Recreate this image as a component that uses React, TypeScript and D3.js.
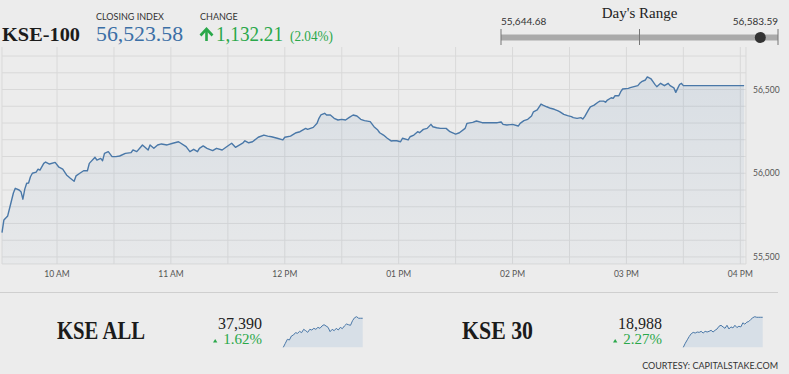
import React from "react";
import * as d3 from "d3";

// KSE-100 intraday (time, index)
const kseTimes = [
    "9:31", "9:32", "9:34", "9:35", "9:37", "9:38", "9:40", "9:41", "9:42", "9:43",
    "9:44", "9:45", "9:46", "9:47", "9:49", "9:50", "9:51", "9:53", "9:54", "9:56",
    "9:59", "10:01", "10:03", "10:05", "10:07", "10:09", "10:10", "10:12", "10:14", "10:16",
    "10:17", "10:20", "10:21", "10:23", "10:24", "10:25", "10:27", "10:29", "10:31", "10:33",
    "10:36", "10:39", "10:40", "10:42", "10:44", "10:45", "10:48", "10:49", "10:51", "10:53",
    "10:55", "10:58", "11:01", "11:04", "11:08", "11:10", "11:12", "11:14", "11:15", "11:17",
    "11:19", "11:22", "11:24", "11:27", "11:29", "11:32", "11:34", "11:38", "11:39", "11:41",
    "11:43", "11:46", "11:49", "11:51", "11:53", "11:56", "11:59", "12:00", "12:03", "12:06",
    "12:08", "12:11", "12:12", "12:15", "12:17", "12:18", "12:19", "12:21", "12:22", "12:24",
    "12:26", "12:28", "12:30", "12:32", "12:34", "12:36", "12:38", "12:40", "12:42", "12:45",
    "12:47", "12:49", "12:50", "12:52", "12:54", "12:56", "12:57", "12:59", "13:01", "13:02",
    "13:05", "13:06", "13:08", "13:10", "13:11", "13:13", "13:15", "13:17", "13:18", "13:20",
    "13:22", "13:25", "13:27", "13:30", "13:32", "13:35", "13:36", "13:39", "13:41", "13:44",
    "13:47", "13:49", "13:52", "13:54", "13:55", "13:57", "14:00", "14:03", "14:04", "14:06",
    "14:08", "14:10", "14:11", "14:13", "14:15", "14:16", "14:18", "14:20", "14:22", "14:24",
    "14:25", "14:27", "14:29", "14:31", "14:32", "14:34", "14:36", "14:37", "14:38", "14:40",
    "14:41", "14:43", "14:45", "14:46", "14:48", "14:49", "14:50", "14:52", "14:53", "14:54",
    "14:56", "14:57", "14:58", "15:01", "15:02", "15:04", "15:06", "15:07", "15:08", "15:10",
    "15:11", "15:13", "15:14", "15:15", "15:16", "15:18", "15:20", "15:22", "15:23", "15:25",
    "15:26", "15:27", "15:28", "15:29", "15:30", "16:02",
];
const kseValues = [
    55645, 55721, 55745, 55791, 55882, 55910, 55900, 55890, 55845, 55905,
    55940, 55942, 55979, 56000, 56007, 56024, 56019, 56059, 56067, 56055,
    56065, 56036, 56024, 55990, 55970, 55952, 55984, 56000, 56015, 56015,
    56059, 56095, 56079, 56089, 56075, 56119, 56129, 56099, 56099, 56103,
    56119, 56123, 56139, 56129, 56155, 56169, 56139, 56169, 56149, 56169,
    56175, 56169, 56179, 56188, 56159, 56129, 56143, 56129, 56149, 56163,
    56149, 56135, 56149, 56139, 56155, 56179, 56155, 56182, 56194, 56182,
    56188, 56215, 56228, 56222, 56218, 56209, 56199, 56215, 56222, 56242,
    56248, 56268, 56262, 56274, 56298, 56328, 56348, 56358, 56348, 56348,
    56328, 56318, 56322, 56318, 56334, 56348, 56342, 56322, 56314, 56308,
    56278, 56258, 56242, 56228, 56209, 56193, 56194, 56194, 56188, 56209,
    56199, 56218, 56228, 56248, 56242, 56262, 56268, 56292, 56278, 56272,
    56268, 56268, 56248, 56234, 56242, 56268, 56298, 56304, 56312, 56302,
    56302, 56302, 56302, 56306, 56292, 56288, 56292, 56282, 56298, 56314,
    56322, 56342, 56367, 56378, 56413, 56407, 56397, 56388, 56382, 56373,
    56367, 56352, 56344, 56338, 56332, 56328, 56332, 56324, 56338, 56378,
    56397, 56407, 56424, 56431, 56431, 56424, 56437, 56451, 56447, 56463,
    56463, 56487, 56503, 56507, 56511, 56517, 56523, 56537, 56547, 56557,
    56575, 56563, 56547, 56531, 56517, 56537, 56523, 56537, 56523, 56510,
    56483, 56507, 56530, 56537, 56523.58, 56523.58,
];

const yTicks = d3.range(55500, 56701, 100);
const yLabelTicks = [55500, 56000, 56500];

const closingIndex = 56523.58;
const changePoints = 1132.21;
const changePct = 2.04;
const dayLow = 55644.68;
const dayHigh = 56583.59;

// mini panels
const miniNames = ["KSE ALL", "KSE 30"];
const miniValues = [37390, 18988];
const miniPcts = [1.62, 2.27];
const kseAllSpark = [
    36831, 36908, 36985, 36972, 37049, 37068, 37113, 37100, 37138, 37113,
    37177, 37151, 37119, 37177, 37164, 37196, 37177, 37215, 37196, 37241,
    37266, 37241, 37215, 37132, 37177, 37151, 37196, 37164, 37215, 37190,
    37241, 37279, 37266, 37254, 37343, 37400, 37420, 37390, 37390, 37390,
];
const kse30Spark = [
    18582, 18637, 18683, 18729, 18766, 18784, 18775, 18789, 18784, 18798,
    18775, 18798, 18789, 18798, 18812, 18789, 18812, 18830, 18867, 18880,
    18858, 18839, 18880, 18830, 18858, 18844, 18880, 18849, 18867, 18858,
    18913, 18895, 18922, 18931, 18959, 18982, 18996, 18988, 18988, 18988,
    18988,
];
const miniSparks = [kseAllSpark, kse30Spark];

const W = 789;
const H = 374;
const SERIF = "'Liberation Serif', 'DejaVu Serif', serif";
const SANS = "Lato, 'Noto Sans', sans-serif";
const GREEN = "#2aa84a";
const BLUE = "#3b6fa6";
const LINE = "#4a78a8";
const GRID = "#d9d9d9";

const parseTime = d3.timeParse("%H:%M");

const Spark: React.FC<{ values: number[]; x0: number; x1: number }> = ({ values, x0, x1 }) => {
    const sx = d3.scaleLinear().domain([0, values.length - 1]).range([x0, x1]);
    const ext = d3.extent(values) as [number, number];
    const sy = d3.scaleLinear().domain(ext).range([347.3, 316.7]);
    const area = d3.area<number>().x((_, i) => sx(i)).y0(347.3).y1((d) => sy(d));
    const line = d3.line<number>().x((_, i) => sx(i)).y((d) => sy(d));
    return (
        <g>
            <path d={area(values) || ""} fill="#d7dfe7" />
            <path d={line(values) || ""} fill="none" stroke={LINE} strokeWidth={1} />
        </g>
    );
};

const App: React.FC = () => {
    const left = 2, right = 746, top = 47, bottom = 264;
    const t0 = parseTime("9:31") as Date;
    const t1 = parseTime("16:03") as Date;
    const x = d3.scaleTime().domain([t0, t1]).range([left, right]);
    const y = d3.scaleLinear().domain([55458, 56754]).range([bottom, top]);

    const data = kseTimes.map((t, i) => ({ t: parseTime(t) as Date, v: kseValues[i] }));
    const line = d3.line<{ t: Date; v: number }>().x((d) => x(d.t)).y((d) => y(d.v));
    const area = d3
        .area<{ t: Date; v: number }>()
        .x((d) => x(d.t))
        .y0(bottom)
        .y1((d) => y(d.v));

    const halfHours = x.ticks(d3.timeMinute.every(30) as d3.TimeInterval);
    const hours = x.ticks(d3.timeHour.every(1) as d3.TimeInterval);
    const fmtHour = d3.timeFormat("%I %p");
    const fmtNum = d3.format(",.0f");

    const rangeX = d3.scaleLinear().domain([dayLow, dayHigh]).range([501, 778]);

    return (
        <svg
            width={W}
            height={H}
            style={{ position: "absolute", left: 0, top: 0, background: "#ececec", display: "block" }}
        >
            <defs>
                <linearGradient id="fillGrad" x1="0" y1="0" x2="0" y2="1">
                    <stop offset="0%" stopColor="#4a78a8" stopOpacity={0.12} />
                    <stop offset="100%" stopColor="#4a78a8" stopOpacity={0.03} />
                </linearGradient>
            </defs>

            {/* header */}
            <text x={2} y={40.5} fontFamily={SERIF} fontSize={19} fontWeight="bold" fill="#1b1b1b" textLength={78} lengthAdjust="spacingAndGlyphs">
                KSE-100
            </text>
            <text x={96} y={19.5} fontFamily={SANS} fontSize={9} fill="#333">CLOSING INDEX</text>
            <text x={96} y={40.5} fontFamily={SERIF} fontSize={21} fill={BLUE} textLength={87} lengthAdjust="spacingAndGlyphs">
                {d3.format(",.2f")(closingIndex)}
            </text>
            <text x={200} y={19.5} fontFamily={SANS} fontSize={9} fill="#333">CHANGE</text>
            <path d="M206.5,41 V31" stroke={GREEN} strokeWidth={2.6} />
            <path d="M200.5,35.5 L206.5,29 L212.5,35.5" fill="none" stroke={GREEN} strokeWidth={2.6} />
            <text x={216} y={40.5} fontFamily={SERIF} fontSize={21} fill={GREEN} textLength={67} lengthAdjust="spacingAndGlyphs">
                {d3.format(",.2f")(changePoints)}
            </text>
            <text x={290} y={40.5} fontFamily={SERIF} fontSize={14} fill={GREEN} textLength={43} lengthAdjust="spacingAndGlyphs">
                ({changePct.toFixed(2)}%)
            </text>

            {/* day's range */}
            <text x={639.5} y={17.5} textAnchor="middle" fontFamily={SERIF} fontSize={15} fill="#222">Day's Range</text>
            <text x={501} y={25} fontFamily={SANS} fontSize={10} fill="#333">{d3.format(",.2f")(dayLow)}</text>
            <text x={778} y={25} textAnchor="end" fontFamily={SANS} fontSize={10} fill="#333">{d3.format(",.2f")(dayHigh)}</text>
            <rect x={rangeX(dayLow)} y={34.5} width={rangeX(dayHigh) - rangeX(dayLow)} height={6} fill="#aaa" />
            {[dayLow, (dayLow + dayHigh) / 2, dayHigh].map((v, i) => (
                <line key={i} x1={rangeX(v)} x2={rangeX(v)} y1={29} y2={45} stroke="#777" strokeWidth={1} />
            ))}
            <circle cx={rangeX(closingIndex)} cy={37.5} r={5.5} fill="#333" />

            {/* grid */}
            {yTicks.map((v) => (
                <line key={v} x1={left} x2={right} y1={y(v)} y2={y(v)} stroke={GRID} />
            ))}
            <line x1={left} x2={right} y1={bottom} y2={bottom} stroke={GRID} />
            {halfHours.map((t, i) => (
                <line key={i} x1={x(t)} x2={x(t)} y1={top} y2={bottom} stroke={GRID} />
            ))}
            <line x1={left} x2={left} y1={top} y2={bottom} stroke={GRID} />
            <line x1={right} x2={right} y1={top} y2={bottom} stroke={GRID} />

            {/* series */}
            <path d={area(data) || ""} fill="url(#fillGrad)" />
            <path d={line(data) || ""} fill="none" stroke={LINE} strokeWidth={1.4} strokeLinejoin="round" />

            {/* axes labels */}
            {hours.map((t, i) => (
                <text key={i} x={x(t)} y={276.5} textAnchor="middle" fontFamily={SANS} fontSize={8.5} fill="#555">
                    {fmtHour(t)}
                </text>
            ))}
            {yLabelTicks.map((v) => (
                <text key={v} x={753} y={y(v) + 3} fontFamily={SANS} fontSize={8.5} fill="#555">
                    {fmtNum(v)}
                </text>
            ))}

            {/* bottom panels */}
            <line x1={0} x2={778} y1={292.5} y2={292.5} stroke="#cfcfcf" />
            {miniNames.map((name, i) => {
                const dx = i * 400;
                return (
                    <g key={name}>
                        <text x={57 + dx + (i ? 5 : 0)} y={339} fontFamily={SERIF} fontSize={25} fontWeight="bold" fill="#1b1b1b"
                            textLength={i ? 71 : 88} lengthAdjust="spacingAndGlyphs">
                            {name}
                        </text>
                        <text x={262 + dx} y={328.5} textAnchor="end" fontFamily={SERIF} fontSize={16} fill="#222">
                            {fmtNum(miniValues[i])}
                        </text>
                        <path d={`M${213 + dx},${342.5} L${215.2 + dx},${339} L${217.4 + dx},${342.5} Z`} fill={GREEN} />
                        <text x={262 + dx} y={344} textAnchor="end" fontFamily={SERIF} fontSize={15} fill={GREEN}>
                            {miniPcts[i].toFixed(2)}%
                        </text>
                        <Spark values={miniSparks[i]} x0={283.3 + dx} x1={362.7 + dx} />
                    </g>
                );
            })}
            <text x={778} y={368.5} textAnchor="end" fontFamily={SANS} fontSize={9} fill="#333">COURTESY: CAPITALSTAKE.COM</text>
        </svg>
    );
};

export default App;
